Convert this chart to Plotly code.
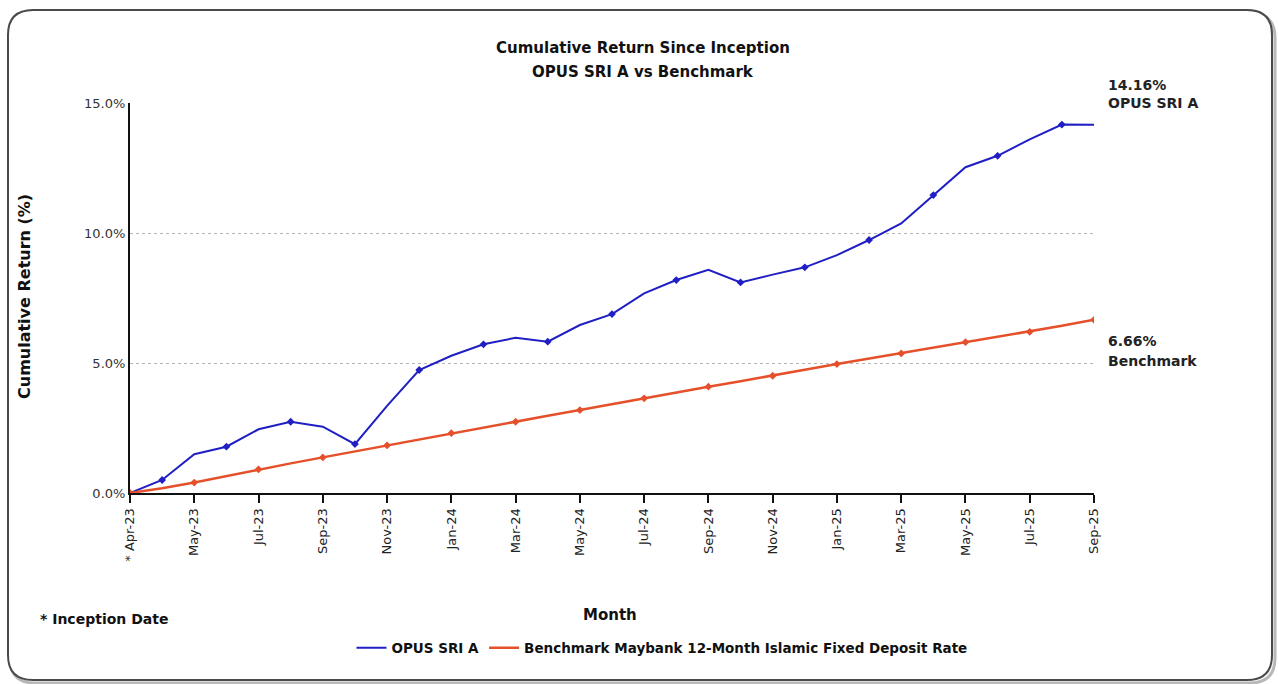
import plotly.graph_objects as go

# ---- data ----
months = ["* Apr-23", "Apr-23", "May-23", "Jun-23", "Jul-23", "Aug-23", "Sep-23", "Oct-23",
          "Nov-23", "Dec-23", "Jan-24", "Feb-24", "Mar-24", "Apr-24", "May-24", "Jun-24",
          "Jul-24", "Aug-24", "Sep-24", "Oct-24", "Nov-24", "Dec-24", "Jan-25", "Feb-25",
          "Mar-25", "Apr-25", "May-25", "Jun-25", "Jul-25", "Aug-25", "Sep-25"]
fund = [0.00, 0.50, 1.49, 1.78, 2.45, 2.74, 2.55, 1.88, 3.35, 4.73, 5.28, 5.72, 5.97, 5.82,
        6.46, 6.88, 7.68, 8.19, 8.58, 8.10, 8.40, 8.68, 9.15, 9.73, 10.37, 11.46, 12.53,
        12.97, 13.60, 14.17, 14.16]
bench = [0.00, 0.18, 0.40, 0.65, 0.91, 1.14, 1.37, 1.60, 1.83, 2.07, 2.30, 2.52, 2.74, 2.97,
         3.19, 3.42, 3.64, 3.87, 4.09, 4.30, 4.51, 4.74, 4.96, 5.17, 5.37, 5.59, 5.80, 6.00,
         6.20, 6.43, 6.66]
fund_name = "OPUS SRI A"
bench_name = "Benchmark Maybank 12-Month Islamic Fixed Deposit Rate"
y_ticks = [0, 5, 10, 15]

idx = list(range(len(months)))
tick_idx = idx[::2]
tick_text = months[::2]

BLUE = "#1F1FC4"
ORANGE = "#E5502A"
FONT = "DejaVu Sans"

W, H = 1279, 684
L, R, T, B = 130, 1094, 103, 493


def px(x):
    return (x - L) / (R - L)


def py(y):
    return (B - y) / (B - T)


fig = go.Figure()
fig.add_trace(go.Scatter(x=idx, y=fund, mode="lines", name=fund_name,
                         line=dict(color=BLUE, width=2)))
fig.add_trace(go.Scatter(x=idx, y=bench, mode="lines", name=bench_name,
                         line=dict(color=ORANGE, width=2.5)))
fig.add_trace(go.Scatter(x=idx[1:-1:2], y=fund[1:-1:2], mode="markers", showlegend=False,
                         marker=dict(color=BLUE, size=6, symbol="diamond")))
fig.add_trace(go.Scatter(x=idx[::2], y=bench[::2], mode="markers", showlegend=False,
                         marker=dict(color=ORANGE, size=6, symbol="diamond")))


def rounded(x1, y1, x2, y2, r):
    return (f"M {px(x1 + r)},{py(y1)} L {px(x2 - r)},{py(y1)} "
            f"Q {px(x2)},{py(y1)} {px(x2)},{py(y1 + r)} L {px(x2)},{py(y2 - r)} "
            f"Q {px(x2)},{py(y2)} {px(x2 - r)},{py(y2)} L {px(x1 + r)},{py(y2)} "
            f"Q {px(x1)},{py(y2)} {px(x1)},{py(y2 - r)} L {px(x1)},{py(y1 + r)} "
            f"Q {px(x1)},{py(y1)} {px(x1 + r)},{py(y1)} Z")


# soft shadow then frame
fig.add_shape(type="path", path=rounded(10, 13, 1275, 683, 25), xref="paper", yref="paper",
              line=dict(color="#b8b8b8", width=3), layer="below")
fig.add_shape(type="path", path=rounded(8, 10, 1272, 680, 25), xref="paper", yref="paper",
              line=dict(color="#4a4a4a", width=2), fillcolor="white", layer="below")

ann = [
    dict(x=px(643), y=py(48), text="<b>Cumulative Return Since Inception</b>",
         font=dict(size=15, color="#111")),
    dict(x=px(643), y=py(72), text="<b>OPUS SRI A vs Benchmark</b>",
         font=dict(size=15, color="#111")),
    dict(x=px(1106), y=py(85), text=f"<b>{fund[-1]:.2f}%</b>", xanchor="left",
         font=dict(size=14, color="#222")),
    dict(x=px(1106), y=py(103), text=f"<b>{fund_name}</b>", xanchor="left",
         font=dict(size=14, color="#222")),
    dict(x=px(1106), y=py(341), text=f"<b>{bench[-1]:.2f}%</b>", xanchor="left",
         font=dict(size=14, color="#222")),
    dict(x=px(1106), y=py(361), text="<b>Benchmark</b>", xanchor="left",
         font=dict(size=14, color="#222")),
    dict(x=px(24), y=py(297), text="<b>Cumulative Return (%)</b>", textangle=-90,
         font=dict(size=16, color="#111")),
    dict(x=px(610), y=py(615), text="<b>Month</b>", font=dict(size=15, color="#111")),
    dict(x=px(38), y=py(619), text="<b>* Inception Date</b>", xanchor="left",
         font=dict(size=14, color="#111")),
]
for a in ann:
    a.setdefault("xref", "paper")
    a.setdefault("yref", "paper")
    a.setdefault("showarrow", False)
    a.setdefault("xanchor", "center")
    a.setdefault("yanchor", "middle")

fig.update_layout(
    width=W, height=H,
    margin=dict(l=L, r=W - R, t=T, b=H - B),
    paper_bgcolor="white", plot_bgcolor="white",
    font=dict(family=FONT, size=13, color="#222"),
    showlegend=True,
    legend=dict(orientation="h", x=px(662), y=py(648), xanchor="center", yanchor="middle",
                font=dict(size=13.5, color="#111", weight="bold"), itemwidth=30,
                tracegroupgap=0, bgcolor="rgba(0,0,0,0)"),
    annotations=ann,
    xaxis=dict(range=[0, len(months) - 1], tickmode="array", tickvals=tick_idx,
               ticktext=tick_text, tickangle=-90, showline=True, linecolor="#111",
               linewidth=2, ticks="outside", ticklen=8, tickwidth=1.5, tickcolor="#111",
               showgrid=False, zeroline=False, tickfont=dict(size=13, color="#222")),
    yaxis=dict(range=[0, 15], tickmode="array", tickvals=y_ticks,
               ticktext=[f"{v:.1f}%" for v in y_ticks], showline=True, linecolor="#111",
               linewidth=2, showgrid=True, gridcolor="#b5b5b5", griddash="dot",
               gridwidth=1, zeroline=False, ticks="", tickfont=dict(size=13, color="#333")),
)

fig.write_html("out.html")
